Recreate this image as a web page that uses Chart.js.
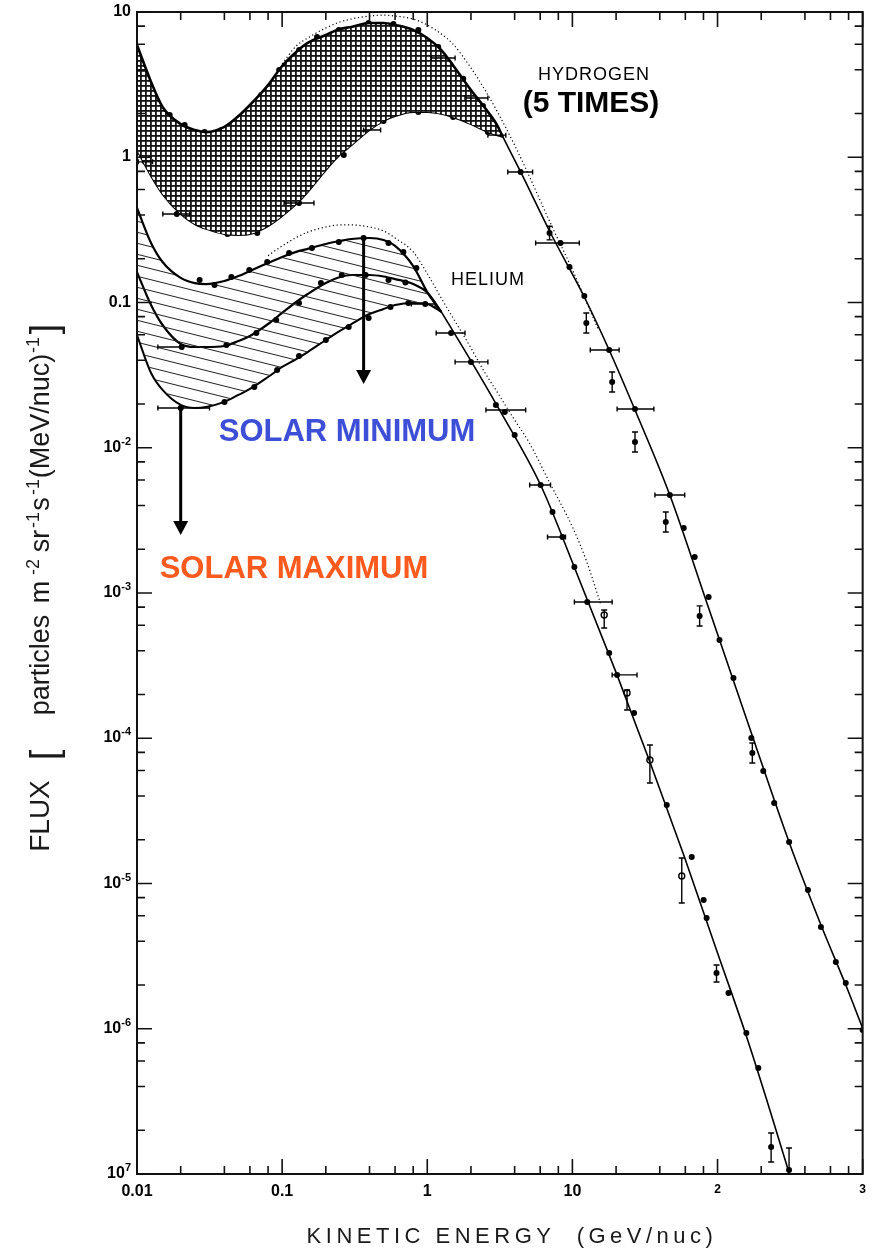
<!DOCTYPE html>
<html>
<head>
<meta charset="utf-8">
<script src="https://cdn.jsdelivr.net/npm/chart.js@4.4.1/dist/chart.umd.min.js"></script>
<style>
  html, body { margin: 0; padding: 0; background: #ffffff; }
  #wrap { position: relative; width: 874px; height: 1252px; }
</style>
</head>
<body>
<div id="wrap"><canvas id="c"></canvas></div>
<script>
// ---- axis ticks ----
const xTickValues = [0.01, 0.1, 1, 10, 100, 1000];
const xTickLabels = ['0.01', '0.1', '1', '10', '2', '3'];
const yTickValues = [1e-7, 1e-6, 1e-5, 1e-4, 1e-3, 1e-2, 0.1, 1, 10];
const yTickBase = ['10', '10', '10', '10', '10', '10', '0.1', '1', '10'];
const yTickExp = ['7', '-6', '-5', '-4', '-3', '-2', '', '', ''];

// ---- hydrogen (x5) modulation band, GeV/nuc ----
const hydrogenBandE = [0.01, 0.0125, 0.015, 0.02, 0.025, 0.03, 0.04, 0.05, 0.06, 0.08,
  0.1, 0.125, 0.15, 0.2, 0.25, 0.3, 0.4, 0.5, 0.6, 0.8, 1.0, 1.25, 1.5, 2.0, 2.5, 3.0, 3.32];
const hydrogenSolarMin = [5.93, 3.30, 2.22, 1.69, 1.54, 1.49, 1.62, 1.92, 2.29, 3.14,
  4.25, 5.31, 6.12, 6.95, 7.64, 7.89, 8.40, 8.40, 8.14, 7.52, 6.62, 5.47, 4.32, 2.90, 2.18, 1.69, 1.38];
const hydrogenMid = [2.40, 1.59, 1.21, 1.00, 0.93, 0.884, 0.843, 0.817, 0.843, 0.957,
  1.12, 1.42, 1.81, 2.48, 3.05, 3.46, 3.93, 4.11, 4.18, 4.25, 4.11, 3.74, 3.40, 2.77, 2.05, 1.62, 1.38];
const hydrogenSolarMax = [1.12, 0.743, 0.558, 0.407, 0.347, 0.321, 0.296, 0.292, 0.296, 0.336,
  0.394, 0.476, 0.576, 0.817, 1.04, 1.21, 1.54, 1.78, 1.92, 2.05, 2.05, 1.99, 1.89, 1.69, 1.52, 1.42, 1.38];

// hydrogen high-energy spectrum
const hydrogenTailE = [3.32, 4.40, 7.07, 12.08, 17.92, 27.0, 46.9, 86.8, 171, 311, 516, 765, 1000];
const hydrogenTailF = [1.38, 0.792, 0.301, 0.1091, 0.0471, 0.0182, 0.00473, 7.88e-4, 1.087e-4, 1.93e-5, 5.18e-6, 2.0e-6, 1.01e-6];

// hydrogen dotted spectrum
const hydrogenDotE = [0.1, 0.125, 0.15, 0.2, 0.25, 0.3, 0.4, 0.5, 0.6, 0.8, 1.0, 1.25, 1.5, 2.0, 2.5, 3.0, 4.0, 5.0, 7.0, 10, 15];
const hydrogenDotF = [4.4, 5.83, 6.62, 7.76, 8.53, 8.95, 9.38, 9.53, 9.38, 8.95, 8.14, 7.06, 6.03, 4.12, 2.90, 2.11, 1.21, 0.755, 0.358, 0.168, 0.066];

// ---- helium modulation band ----
const heliumBandE = [0.01, 0.0125, 0.015, 0.02, 0.025, 0.03, 0.04, 0.05, 0.06, 0.08,
  0.1, 0.125, 0.15, 0.2, 0.25, 0.3, 0.4, 0.5, 0.6, 0.8, 1.0, 1.25];
const heliumSolarMin = [0.448, 0.257, 0.190, 0.1476, 0.136, 0.134, 0.1406, 0.152, 0.165, 0.187,
  0.206, 0.223, 0.234, 0.253, 0.265, 0.2735, 0.278, 0.269, 0.245, 0.178, 0.118, 0.0861];
const heliumMid = [0.162, 0.0961, 0.070, 0.0518, 0.0494, 0.0494, 0.0502, 0.0543, 0.0588, 0.0711,
  0.0847, 0.1008, 0.1144, 0.1362, 0.1498, 0.1546, 0.1546, 0.151, 0.145, 0.134, 0.117, 0.0861];
const heliumSolarMax = [0.0597, 0.0327, 0.025, 0.0197, 0.0188, 0.0191, 0.0207, 0.0231, 0.0254, 0.0307,
  0.036, 0.0408, 0.0456, 0.0552, 0.0637, 0.0711, 0.0833, 0.0902, 0.0961, 0.0992, 0.0977, 0.0861];

// helium high-energy spectrum
const heliumTailE = [1.25, 2.0, 3.06, 6.04, 10.3, 20.3, 34.2, 58.5, 98.4, 158, 242, 311];
const heliumTailF = [0.0861, 0.0396, 0.0191, 0.00554, 0.00151, 2.73e-4, 6.86e-5, 1.57e-5, 3.48e-6, 8.91e-7, 2.32e-7, 1.02e-7];

// helium dotted spectrum
const heliumDotE = [0.08, 0.1, 0.125, 0.15, 0.2, 0.25, 0.3, 0.4, 0.5, 0.6, 0.8, 1.0, 1.25, 1.5, 2.0, 2.5, 3.0, 4.0, 5.0, 7.0, 10, 12.5, 15.6];
const heliumDotF = [0.21, 0.245, 0.28, 0.305, 0.331, 0.342, 0.342, 0.331, 0.311, 0.278, 0.223, 0.158, 0.107, 0.0788, 0.0486, 0.0327, 0.0246, 0.0155, 0.011, 0.0057, 0.00285, 0.00166, 8.5e-4];

// ---- measured points ----
const hydrogenPtE = [
  0.0168, 0.0213, 0.0292, 0.0382, 0.0507, 0.0718, 0.0954, 0.131, 0.174, 0.246, 0.394, 0.585, 0.868, 1.19, 1.77, 2.42,
  0.0213, 0.0342, 0.0507, 0.0881, 0.1531, 0.266, 0.4267, 0.6847, 1.19, 1.909,
  0.01135, 0.0188, 0.042, 0.0674, 0.1307, 0.266, 0.4995, 0.868, 1.507, 2.617,
  4.40, 6.96, 8.28, 9.54, 12.08, 12.47, 17.92, 18.79, 27.0, 27.0, 46.9, 44.0, 58.5, 69.6, 86.8, 75.3,
  103.2, 128.7, 171, 173.7, 206.6, 245.7, 311.3, 420, 515.6, 653.4, 764.7, 1000];
const hydrogenPtF = [
  1.95, 1.67, 1.49, 1.54, 1.86, 2.68, 3.99, 5.47, 6.73, 7.52, 8.40, 8.27, 7.52, 5.74, 3.47, 2.25,
  0.973, 0.871, 0.817, 1.004, 1.834, 3.144, 3.99, 4.18, 3.86, 2.90,
  0.93, 0.407, 0.296, 0.301, 0.484, 1.036, 1.78, 2.05, 1.893, 1.492,
  0.792, 0.301, 0.257, 0.1756, 0.1109, 0.0723, 0.0471, 0.02836, 0.01848, 0.01095, 0.00473, 0.00308, 0.0028, 0.00177, 9.39e-4, 6.95e-4,
  4.75e-4, 2.60e-4, 1.004e-4, 7.92e-5, 5.95e-5, 3.58e-5, 1.93e-5, 9.02e-6, 5.02e-6, 2.88e-6, 2.065e-6, 9.8e-7];

const heliumPtE = [
  0.027, 0.0342, 0.0447, 0.0594, 0.0789, 0.1116, 0.1605, 0.2457, 0.3645, 0.5406, 0.6847, 0.841,
  0.02033, 0.0413, 0.0664, 0.091, 0.1307, 0.185, 0.2576, 0.376, 0.5406, 0.7068,
  0.02001, 0.04006, 0.0643, 0.0924, 0.1307, 0.2001, 0.2876, 0.3944, 0.558, 0.741, 0.969,
  1.46, 2.0, 2.97, 3.42, 4.0, 6.04, 7.29, 8.54, 10.32, 12.66, 17.92, 20.33, 26.6, 44.7, 66.4, 80.2, 84.1,
  98.4, 119, 158, 190.9, 234, 311];
const heliumPtF = [
  0.1429, 0.132, 0.1498, 0.1674, 0.190, 0.2192, 0.2372, 0.261, 0.278, 0.257, 0.223, 0.1728,
  0.0494, 0.051, 0.0617, 0.0758, 0.0992, 0.1362, 0.1546, 0.1546, 0.1429, 0.1373,
  0.01878, 0.02066, 0.0262, 0.0343, 0.0428, 0.0552, 0.0678, 0.0782, 0.0931, 0.0992, 0.0977,
  0.0617, 0.039, 0.0197, 0.01762, 0.01224, 0.00554, 0.00361, 0.00243, 0.00151, 8.67e-4, 3.86e-4, 2.73e-4, 1.49e-4, 3.47e-5, 1.52e-5, 7.7e-6, 5.79e-6,
  2.42e-6, 1.76e-6, 9.35e-7, 5.37e-7, 1.535e-7, 1.065e-7];

const heliumOpenE = [16.56, 23.8, 34.2, 56.7];
const heliumOpenF = [7.06e-4, 2.05e-4, 7.09e-5, 1.126e-5];

// energy-bin bars: [E low, E high, flux]
const hydrogenEBars = [
  [0.0102, 0.0128, 0.93], [0.01506, 0.02307, 0.407], [0.1032, 0.1657, 0.484], [0.364, 0.477, 1.54],
  [1.065, 1.555, 4.82], [1.82, 2.617, 2.557], [2.617, 3.476, 1.42], [3.587, 5.32, 0.792],
  [5.58, 11.16, 0.257], [13.28, 20.99, 0.0471], [20.33, 36.44, 0.01848], [37.03, 59.4, 0.00473]];
const heliumEBars = [
  [0.01392, 0.0316, 0.01878], [0.01392, 0.02066, 0.0494], [0.777, 1.134, 0.0977],
  [1.152, 1.82, 0.0617], [1.555, 2.617, 0.039], [2.536, 4.764, 0.0182], [5.076, 7.07, 0.00554],
  [6.74, 8.96, 0.00243], [10.32, 18.79, 8.67e-4], [18.79, 27.87, 2.73e-4]];
// flux uncertainty bars: [E, flux low, flux high]
const hydrogenFBars = [
  [6.96, 0.27, 0.335], [12.47, 0.0617, 0.0847], [18.79, 0.0242, 0.0332], [27.0, 0.00934, 0.01283],
  [44.0, 0.00263, 0.00361], [75.3, 5.93e-4, 8.15e-4], [173.7, 6.76e-5, 9.28e-5]];
const heliumFBars = [
  [16.56, 5.74e-4, 7.64e-4], [23.8, 1.565e-4, 2.15e-4], [34.2, 4.92e-5, 8.98e-5], [56.7, 7.34e-6, 1.498e-5],
  [98.4, 2.1e-6, 2.75e-6], [234, 1.21e-7, 1.915e-7], [311, 1.0e-7, 1.51e-7]];

// solar-cycle arrows: energy, flux at start, flux at tip
const arrowE = [0.3643, 0.02];
const arrowFromF = [0.278, 0.0197];
const arrowToF = [0.0275, 0.00251];

// ---- helpers ----
const pts = (xs, ys) => xs.map((v, i) => ({ x: v, y: ys[i] }));

function crossPattern() {
  const t = document.createElement('canvas');
  t.width = 5; t.height = 5;
  const g = t.getContext('2d');
  g.fillStyle = '#ffffff'; g.fillRect(0, 0, 5, 5);
  g.fillStyle = '#151515';
  g.fillRect(0, 0, 5, 1.8);
  g.fillRect(0, 0, 1.8, 5);
  return g.createPattern(t, 'repeat');
}
function slantPattern() {
  const t = document.createElement('canvas');
  t.width = 44; t.height = 11;
  const g = t.getContext('2d');
  g.strokeStyle = '#222222'; g.lineWidth = 1;
  for (const off of [-11, 0, 11]) {
    g.beginPath(); g.moveTo(0, off); g.lineTo(44, off + 11); g.stroke();
  }
  return g.createPattern(t, 'repeat');
}

const lineBase = { pointRadius: 0, borderColor: '#000', fill: false, cubicInterpolationMode: 'monotone' };
const FONT = '"Liberation Sans", Arial, sans-serif';

const overlay = {
  id: 'overlay',
  afterDatasetsDraw(chart) {
    const { ctx, chartArea: a, scales: { x, y } } = chart;
    ctx.save();
    ctx.beginPath(); ctx.rect(a.left, a.top, a.right - a.left, a.bottom - a.top); ctx.clip();
    ctx.strokeStyle = '#000'; ctx.lineWidth = 1.4;
    for (const [lo, hi, f] of hydrogenEBars.concat(heliumEBars)) {
      const x0 = x.getPixelForValue(lo), x1 = x.getPixelForValue(hi), yy = y.getPixelForValue(f);
      ctx.beginPath();
      ctx.moveTo(x0, yy); ctx.lineTo(x1, yy);
      ctx.moveTo(x0, yy - 2.5); ctx.lineTo(x0, yy + 2.5);
      ctx.moveTo(x1, yy - 2.5); ctx.lineTo(x1, yy + 2.5);
      ctx.stroke();
    }
    for (const [e, lo, hi] of hydrogenFBars.concat(heliumFBars)) {
      const xx = x.getPixelForValue(e), y0 = y.getPixelForValue(lo), y1 = y.getPixelForValue(hi);
      ctx.beginPath();
      ctx.moveTo(xx, y0); ctx.lineTo(xx, y1);
      ctx.moveTo(xx - 3, y0); ctx.lineTo(xx + 3, y0);
      ctx.moveTo(xx - 3, y1); ctx.lineTo(xx + 3, y1);
      ctx.stroke();
    }
    ctx.restore();

    // frame and inward ticks on all four sides
    ctx.save();
    ctx.strokeStyle = '#111'; ctx.lineWidth = 2;
    ctx.strokeRect(a.left, a.top, a.right - a.left, a.bottom - a.top);
    ctx.lineWidth = 1.6;
    const minors = (majors) => {
      const out = [];
      for (let i = 0; i < majors.length - 1; i++) for (const m of [2, 4, 6, 8]) out.push(majors[i] * m);
      return out;
    };
    const drawX = (vals, len) => {
      for (const v of vals) {
        const px = x.getPixelForValue(v);
        ctx.beginPath();
        ctx.moveTo(px, a.bottom); ctx.lineTo(px, a.bottom - len);
        ctx.moveTo(px, a.top); ctx.lineTo(px, a.top + len);
        ctx.stroke();
      }
    };
    const drawY = (vals, len) => {
      for (const v of vals) {
        const py = y.getPixelForValue(v);
        ctx.beginPath();
        ctx.moveTo(a.left, py); ctx.lineTo(a.left + len, py);
        ctx.moveTo(a.right, py); ctx.lineTo(a.right - len, py);
        ctx.stroke();
      }
    };
    drawX(xTickValues, 15); drawX(minors(xTickValues), 8);
    drawY(yTickValues, 15); drawY(minors(yTickValues), 8);
    ctx.restore();
  },
  afterDraw(chart) {
    const { ctx, chartArea: a, scales: { x, y } } = chart;
    ctx.save();
    ctx.fillStyle = '#000'; ctx.strokeStyle = '#000';

    // y tick labels with exponents
    ctx.textBaseline = 'alphabetic';
    yTickValues.forEach((v, i) => {
      const py = y.getPixelForValue(v);
      ctx.font = 'bold 16px ' + FONT;
      const wb = ctx.measureText(yTickBase[i]).width;
      ctx.font = 'bold 11px ' + FONT;
      const we = yTickExp[i] ? ctx.measureText(yTickExp[i]).width : 0;
      const right = a.left - 6;
      ctx.font = 'bold 16px ' + FONT;
      ctx.textAlign = 'left';
      ctx.fillText(yTickBase[i], right - we - wb, py + 4);
      if (yTickExp[i]) {
        ctx.font = 'bold 11px ' + FONT;
        ctx.fillText(yTickExp[i], right - we, py - 3);
      }
    });

    // arrows from solar minimum to solar maximum
    ctx.lineWidth = 3;
    arrowE.forEach((e, i) => {
      const px = x.getPixelForValue(e);
      const y0 = y.getPixelForValue(arrowFromF[i]);
      const y1 = y.getPixelForValue(arrowToF[i]);
      ctx.beginPath(); ctx.moveTo(px, y0); ctx.lineTo(px, y1 - 12); ctx.stroke();
      ctx.beginPath();
      ctx.moveTo(px - 7.5, y1 - 14); ctx.lineTo(px + 7.5, y1 - 14); ctx.lineTo(px, y1);
      ctx.closePath(); ctx.fill();
    });

    // labels
    ctx.textAlign = 'center';
    ctx.font = '18px ' + FONT;
    ctx.letterSpacing = '1px';
    ctx.fillText('HYDROGEN', 594, 80);
    ctx.fillText('HELIUM', 488, 285);
    ctx.letterSpacing = '0px';
    ctx.font = 'bold 30px ' + FONT;
    ctx.fillText('(5 TIMES)', 591, 112);
    ctx.font = 'bold 31px ' + FONT;
    ctx.fillStyle = '#3d4fd7';
    ctx.fillText('SOLAR MINIMUM', 347, 441);
    ctx.fillStyle = '#fa5a1e';
    ctx.fillText('SOLAR MAXIMUM', 294, 578);

    // x axis title
    ctx.fillStyle = '#1a1a1a';
    ctx.font = '22px ' + FONT;
    ctx.letterSpacing = '4.5px';
    ctx.fillText('KINETIC ENERGY  (GeV/nuc)', 512, 1243);
    ctx.letterSpacing = '0px';

    // y axis title, read bottom to top: [text, size, centre, raise]
    const segs = [
      ['FLUX', 28, 816, 0], ['[', 38, 755, -8], ['particles', 27, 665, 0],
      ['m', 27, 592, 0], ['-2', 18, 567, 10], ['sr', 27, 541, 0], ['-1', 18, 520, 10],
      ['s', 27, 504, 0], ['-1', 18, 487, 10], ['(MeV/nuc)', 27, 416, 0], ['-1', 18, 345, 10],
      [']', 38, 329, -8]];
    for (const [t, size, cy, raise] of segs) {
      ctx.save();
      ctx.translate(49, cy);
      ctx.rotate(-Math.PI / 2);
      ctx.font = size + 'px ' + FONT;
      ctx.textAlign = 'center';
      ctx.fillText(t, 0, -raise);
      ctx.restore();
    }
    ctx.restore();
  }
};

Chart.defaults.font.family = FONT;

new Chart(document.getElementById('c'), {
  type: 'line',
  data: {
    datasets: [
      { ...lineBase, data: pts(hydrogenBandE, hydrogenSolarMin), borderWidth: 2.6,
        fill: { target: 2 }, backgroundColor: crossPattern() },
      { ...lineBase, data: pts(hydrogenBandE, hydrogenMid), borderWidth: 2.4 },
      { ...lineBase, data: pts(hydrogenBandE, hydrogenSolarMax), borderWidth: 2 },
      { ...lineBase, data: pts(heliumBandE, heliumSolarMin), borderWidth: 2.2,
        fill: { target: 5 }, backgroundColor: slantPattern() },
      { ...lineBase, data: pts(heliumBandE, heliumMid), borderWidth: 2.2 },
      { ...lineBase, data: pts(heliumBandE, heliumSolarMax), borderWidth: 2 },
      { ...lineBase, data: pts(hydrogenTailE, hydrogenTailF), borderWidth: 1.6 },
      { ...lineBase, data: pts(heliumTailE, heliumTailF), borderWidth: 1.6 },
      { ...lineBase, data: pts(hydrogenDotE, hydrogenDotF), borderWidth: 1.2, borderDash: [1.2, 2.6] },
      { ...lineBase, data: pts(heliumDotE, heliumDotF), borderWidth: 1.2, borderDash: [1.2, 2.6] },
      { type: 'scatter', data: pts(hydrogenPtE, hydrogenPtF), showLine: false,
        pointRadius: 3, pointBackgroundColor: '#000', pointBorderColor: '#000', pointBorderWidth: 0 },
      { type: 'scatter', data: pts(heliumPtE, heliumPtF), showLine: false,
        pointRadius: 3, pointBackgroundColor: '#000', pointBorderColor: '#000', pointBorderWidth: 0 },
      { type: 'scatter', data: pts(heliumOpenE, heliumOpenF), showLine: false,
        pointRadius: 3, pointBackgroundColor: '#fff', pointBorderColor: '#000', pointBorderWidth: 1.4 }
    ]
  },
  options: {
    responsive: true,
    maintainAspectRatio: false,
    animation: false,
    events: [],
    layout: { padding: { left: 0, right: 7, top: 12, bottom: 0 } },
    plugins: { legend: { display: false }, tooltip: { enabled: false } },
    scales: {
      x: {
        type: 'logarithmic', position: 'bottom', min: 0.01, max: 1000,
        grid: { display: false, drawTicks: false },
        border: { display: false },
        afterBuildTicks: (s) => { s.ticks = xTickValues.map(v => ({ value: v })); },
        afterFit: (s) => { s.height = 78; },
        ticks: {
          autoSkip: false, maxRotation: 0, padding: 8, color: '#000',
          font: (c) => ({ size: c.index >= 4 ? 12 : 16, weight: 'bold' }),
          callback: (v, i) => xTickLabels[i]
        }
      },
      y: {
        type: 'logarithmic', position: 'left', min: 1e-7, max: 10,
        grid: { display: false, drawTicks: false },
        border: { display: false },
        afterBuildTicks: (s) => { s.ticks = yTickValues.map(v => ({ value: v })); },
        afterFit: (s) => { s.width = 137; },
        ticks: { display: false }
      }
    }
  },
  plugins: [overlay]
});
</script>
</body>
</html>
